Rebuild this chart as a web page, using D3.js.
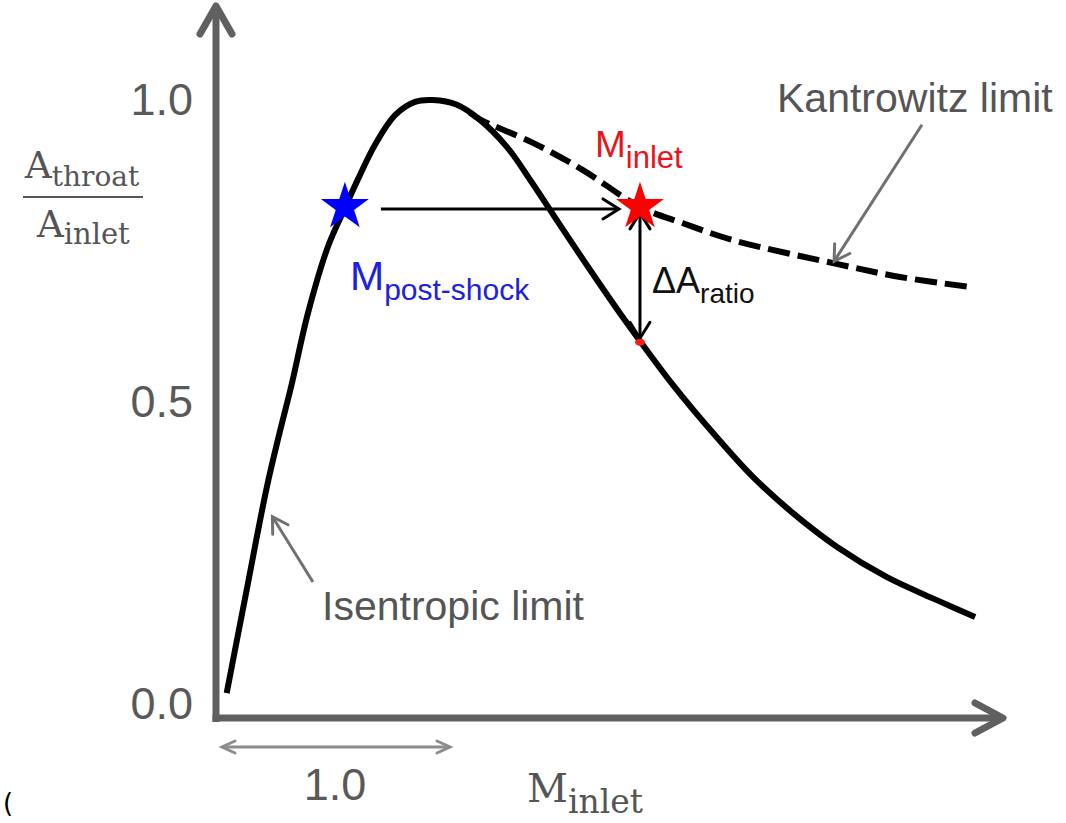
<!DOCTYPE html>
<html>
<head>
<meta charset="utf-8">
<script src="https://cdn.jsdelivr.net/npm/d3@7/dist/d3.min.js"></script>
<style>
  html, body { margin: 0; padding: 0; background: #ffffff; }
  svg { display: block; }
</style>
</head>
<body>
<svg id="chart" width="1066" height="823"></svg>
<script>
// ---------------- data ----------------
// Isentropic limit (solid curve): M_inlet vs A_throat/A_inlet
const isoMach = [0.029, 0.116, 0.203, 0.261, 0.309, 0.383, 0.470, 0.543, 0.600, 0.674, 0.761, 0.848, 0.926,
                 1.030, 1.130, 1.248, 1.348, 1.435, 1.522, 1.639, 1.739, 1.830, 1.970, 2.143, 2.317, 2.491,
                 2.683, 2.900, 3.117, 3.283];
const isoRatio = [0.018, 0.189, 0.358, 0.452, 0.525, 0.648, 0.758, 0.821, 0.869, 0.926, 0.975, 0.997, 1.000,
                  0.992, 0.967, 0.922, 0.868, 0.818, 0.768, 0.702, 0.647, 0.599, 0.528, 0.449, 0.376, 0.316,
                  0.260, 0.210, 0.172, 0.144];
// Kantrowitz limit (dashed curve)
const kanMach = [1.087, 1.130, 1.361, 1.578, 1.826, 2.013, 2.230, 2.665, 2.957, 3.270];
const kanRatio = [0.979, 0.968, 0.929, 0.884, 0.823, 0.796, 0.768, 0.730, 0.707, 0.690];

// key points
const postShock = { M: 0.543, A: 0.823 };
const inletPt   = { M: 1.826, A: 0.823 };
const isoAtInlet = { M: 1.826, A: 0.599 };

// ticks
const yTickValues = [0, 0.5, 1.0];
const yTickLabels = ["0.0", "0.5", "1.0"];
const xUnitLabel = "1.0";

// ---------------- layout ----------------
const svg = d3.select("#chart");
const x = d3.scaleLinear().domain([0, 1]).range([220, 450]);
const y = d3.scaleLinear().domain([0, 1]).range([704, 100]);

const axisColor = "#606060";
const textGray = "#555555";
const sans = "'Liberation Sans', Arial, sans-serif";
const serif = "'DejaVu Serif', serif";

const defs = svg.append("defs");
function chevron(id, color, len, half, width) {
  defs.append("marker")
    .attr("id", id)
    .attr("markerUnits", "userSpaceOnUse")
    .attr("viewBox", `${-len - 4} ${-half - 4} ${len + 8} ${2 * half + 8}`)
    .attr("markerWidth", len + 8)
    .attr("markerHeight", 2 * half + 8)
    .attr("refX", 0).attr("refY", 0)
    .attr("orient", "auto-start-reverse")
    .append("path")
    .attr("d", `M${-len},${-half} L0,0 L${-len},${half}`)
    .attr("fill", "none")
    .attr("stroke", color)
    .attr("stroke-width", width)
    .attr("stroke-linecap", "round")
    .attr("stroke-linejoin", "miter");
}
chevron("blackHead", "#000", 16, 10, 3);
chevron("grayHead", "#707070", 15, 9, 3);
chevron("unitHead", "#8c8c8c", 13, 6, 3);

// ---------------- axes ----------------
const axisX0 = 216, axisY0 = 718;
// y axis line + arrow
svg.append("line").attr("x1", axisX0).attr("y1", axisY0 + 4).attr("x2", axisX0).attr("y2", 6)
  .attr("stroke", axisColor).attr("stroke-width", 7);
svg.append("path").attr("d", `M${axisX0 - 16},${34} L${axisX0},${6} L${axisX0 + 16},${34}`)
  .attr("fill", "none").attr("stroke", axisColor).attr("stroke-width", 7)
  .attr("stroke-linecap", "round").attr("stroke-linejoin", "round");
// x axis line + arrow
svg.append("line").attr("x1", axisX0 - 3.5).attr("y1", axisY0).attr("x2", 1002).attr("y2", axisY0)
  .attr("stroke", axisColor).attr("stroke-width", 7);
svg.append("path").attr("d", `M${975},${axisY0 - 15} L${1003},${axisY0} L${975},${axisY0 + 15}`)
  .attr("fill", "none").attr("stroke", axisColor).attr("stroke-width", 7)
  .attr("stroke-linecap", "round").attr("stroke-linejoin", "round");

// y tick labels via d3 axis
const yAxis = d3.axisLeft(y).tickValues(yTickValues).tickSize(0).tickPadding(23)
  .tickFormat((d, i) => yTickLabels[i]);
const gy = svg.append("g").attr("transform", `translate(${axisX0},0)`).call(yAxis);
gy.select(".domain").remove();
gy.selectAll("text").attr("font-family", sans).attr("font-size", 45).attr("fill", "#595959");

// unit-length double arrow under x axis
svg.append("line")
  .attr("x1", x(0) + 2).attr("y1", 747).attr("x2", x(1)).attr("y2", 747)
  .attr("stroke", "#8c8c8c").attr("stroke-width", 3)
  .attr("marker-start", "url(#unitHead)").attr("marker-end", "url(#unitHead)");
svg.append("text").attr("x", x(0.5)).attr("y", 800).attr("text-anchor", "middle")
  .attr("font-family", sans).attr("font-size", 45).attr("fill", "#595959").text(xUnitLabel);

// x axis title: M_inlet
const xt = svg.append("text").attr("x", 527).attr("y", 802)
  .attr("font-family", serif).attr("fill", textGray);
xt.append("tspan").attr("font-size", 40).text("M");
xt.append("tspan").attr("font-size", 33).attr("dy", 11).text("inlet");

// y axis title: fraction
const yNum = svg.append("text").attr("x", 25).attr("y", 178).attr("font-family", serif).attr("fill", textGray);
yNum.append("tspan").attr("font-size", 37).text("A");
yNum.append("tspan").attr("font-size", 28).attr("dy", 8).text("throat");
svg.append("line").attr("x1", 23).attr("x2", 143).attr("y1", 197).attr("y2", 197)
  .attr("stroke", textGray).attr("stroke-width", 2);
const yDen = svg.append("text").attr("x", 37).attr("y", 237).attr("font-family", serif).attr("fill", textGray);
yDen.append("tspan").attr("font-size", 37).text("A");
yDen.append("tspan").attr("font-size", 29).attr("dy", 7).text("inlet");

// ---------------- curves ----------------
const isoData = isoMach.map((m, i) => [m, isoRatio[i]]);
const kanData = kanMach.map((m, i) => [m, kanRatio[i]]);
const line = d3.line().x(d => x(d[0])).y(d => y(d[1])).curve(d3.curveCatmullRom.alpha(0.5));

svg.append("path").datum(kanData).attr("d", line)
  .attr("fill", "none").attr("stroke", "#000").attr("stroke-width", 6)
  .attr("stroke-dasharray", "22,8");
svg.append("path").datum(isoData).attr("d", line)
  .attr("fill", "none").attr("stroke", "#000").attr("stroke-width", 6)
  .attr("stroke-linejoin", "round");

// ---------------- annotations ----------------
// horizontal arrow from post-shock to inlet
svg.append("line")
  .attr("x1", x(postShock.M) + 36).attr("y1", y(postShock.A) + 2)
  .attr("x2", x(inletPt.M) - 21).attr("y2", y(postShock.A) + 2)
  .attr("stroke", "#000").attr("stroke-width", 3)
  .attr("marker-end", "url(#blackHead)");
// vertical double arrow ΔA
svg.append("line")
  .attr("x1", x(inletPt.M)).attr("y1", y(inletPt.A) + 6)
  .attr("x2", x(inletPt.M)).attr("y2", y(isoAtInlet.A) - 4)
  .attr("stroke", "#000").attr("stroke-width", 3)
  .attr("marker-start", "url(#blackHead)").attr("marker-end", "url(#blackHead)");
// red dot on isentropic curve
svg.append("ellipse").attr("cx", x(isoAtInlet.M)).attr("cy", y(isoAtInlet.A))
  .attr("rx", 5).attr("ry", 3.5).attr("fill", "#ff1a1a");

// stars
const star = d3.symbol().type(d3.symbolStar).size(715);
svg.append("path").attr("d", star)
  .attr("transform", `translate(${x(postShock.M)},${y(postShock.A)})`).attr("fill", "#0000ff");
svg.append("path").attr("d", star)
  .attr("transform", `translate(${x(inletPt.M)},${y(inletPt.A)})`).attr("fill", "#ff0000");

// labels
const lm = svg.append("text").attr("x", 595).attr("y", 157).attr("font-family", sans).attr("fill", "#e8141b");
lm.append("tspan").attr("font-size", 37).text("M");
lm.append("tspan").attr("font-size", 31).attr("dy", 11).text("inlet");

const lp = svg.append("text").attr("x", 350).attr("y", 290).attr("font-family", sans).attr("fill", "#2020e0");
lp.append("tspan").attr("font-size", 41).text("M");
lp.append("tspan").attr("font-size", 30).attr("dy", 10).text("post-shock");

const ld = svg.append("text").attr("x", 652).attr("y", 293).attr("font-family", sans).attr("fill", "#111");
ld.append("tspan").attr("font-size", 36).text("ΔA");
ld.append("tspan").attr("font-size", 28).attr("dy", 10).text("ratio");

// Kantrowitz pointer
svg.append("text").attr("x", 777).attr("y", 112).attr("font-family", sans).attr("font-size", 41)
  .attr("fill", textGray).text("Kantrowitz limit");
svg.append("line")
  .attr("x1", x(3.052)).attr("y1", y(0.959)).attr("x2", x(2.67)).attr("y2", y(0.733))
  .attr("stroke", "#707070").attr("stroke-width", 3).attr("marker-end", "url(#grayHead)");

// Isentropic pointer
svg.append("text").attr("x", 322).attr("y", 620).attr("font-family", sans).attr("font-size", 41)
  .attr("fill", textGray).text("Isentropic limit");
svg.append("line")
  .attr("x1", x(0.404)).attr("y1", y(0.202)).attr("x2", x(0.228)).attr("y2", y(0.310))
  .attr("stroke", "#707070").attr("stroke-width", 3).attr("marker-end", "url(#grayHead)");

// stray character at bottom-left
svg.append("text").attr("x", 3).attr("y", 812).attr("font-family", "'DejaVu Sans', sans-serif")
  .attr("font-size", 26).attr("fill", "#000").text("(");
</script>
</body>
</html>
